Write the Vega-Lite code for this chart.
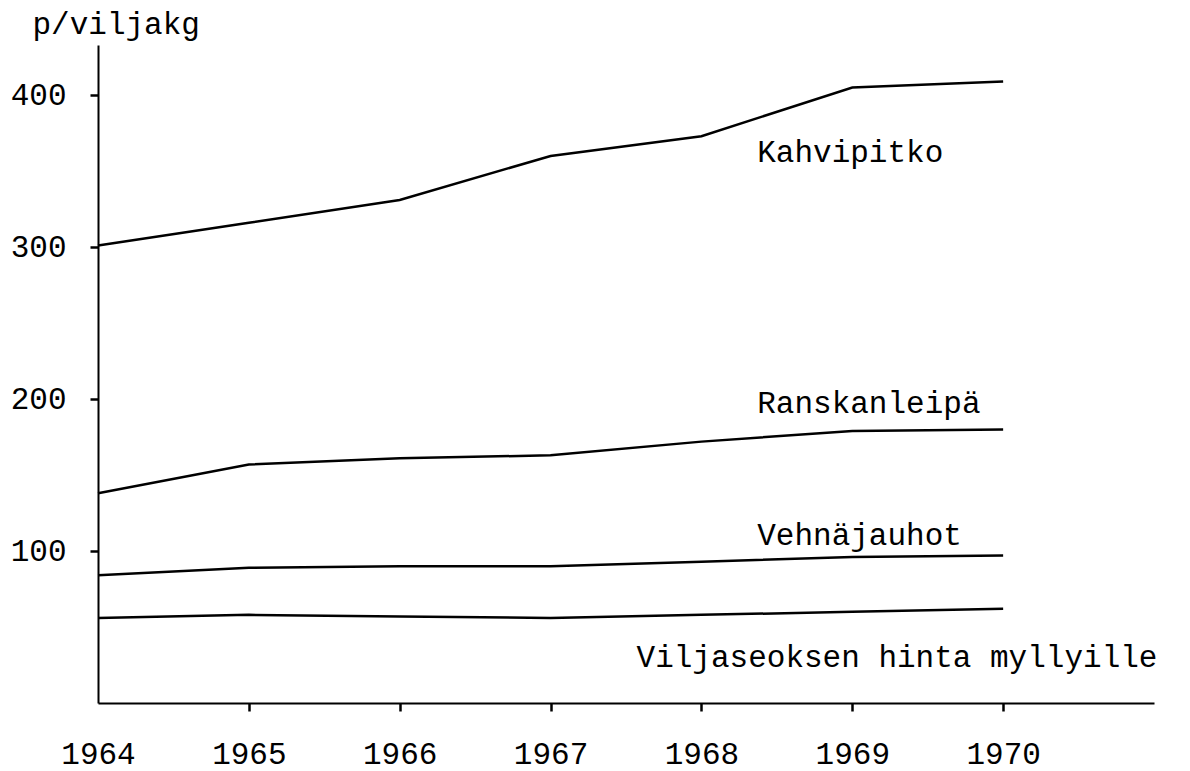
{
  "$schema": "https://vega.github.io/schema/vega-lite/v6.json",
  "autosize": "none",
  "width": 1056,
  "height": 658,
  "padding": {"left": 98, "top": 45, "right": 36, "bottom": 68},
  "background": "white",
  "config": {
    "view": {"stroke": null},
    "font": "Liberation Mono",
    "axis": {"grid": false, "domainColor": "black", "tickColor": "black", "labelColor": "black", "titleColor": "black", "domainWidth": 2, "tickWidth": 2.5, "labelFont": "Liberation Mono", "titleFont": "Liberation Mono", "labelFontSize": 31, "titleFontSize": 31, "labelFontWeight": "normal", "titleFontWeight": "normal"}
  },
  "datasets": {
    "series": [
      {"sarja": "Kahvipitko", "vuosi": 1964, "hinta": 301},
      {"sarja": "Kahvipitko", "vuosi": 1965, "hinta": 316},
      {"sarja": "Kahvipitko", "vuosi": 1966, "hinta": 331},
      {"sarja": "Kahvipitko", "vuosi": 1967, "hinta": 360},
      {"sarja": "Kahvipitko", "vuosi": 1968, "hinta": 373},
      {"sarja": "Kahvipitko", "vuosi": 1969, "hinta": 405},
      {"sarja": "Kahvipitko", "vuosi": 1970, "hinta": 409},
      {"sarja": "Ranskanleipä", "vuosi": 1964, "hinta": 138},
      {"sarja": "Ranskanleipä", "vuosi": 1965, "hinta": 157},
      {"sarja": "Ranskanleipä", "vuosi": 1966, "hinta": 161},
      {"sarja": "Ranskanleipä", "vuosi": 1967, "hinta": 163},
      {"sarja": "Ranskanleipä", "vuosi": 1968, "hinta": 172},
      {"sarja": "Ranskanleipä", "vuosi": 1969, "hinta": 179},
      {"sarja": "Ranskanleipä", "vuosi": 1970, "hinta": 180},
      {"sarja": "Vehnäjauhot", "vuosi": 1964, "hinta": 84},
      {"sarja": "Vehnäjauhot", "vuosi": 1965, "hinta": 89},
      {"sarja": "Vehnäjauhot", "vuosi": 1966, "hinta": 90},
      {"sarja": "Vehnäjauhot", "vuosi": 1967, "hinta": 90},
      {"sarja": "Vehnäjauhot", "vuosi": 1968, "hinta": 93},
      {"sarja": "Vehnäjauhot", "vuosi": 1969, "hinta": 96},
      {"sarja": "Vehnäjauhot", "vuosi": 1970, "hinta": 97},
      {"sarja": "Viljaseos", "vuosi": 1964, "hinta": 56},
      {"sarja": "Viljaseos", "vuosi": 1965, "hinta": 58},
      {"sarja": "Viljaseos", "vuosi": 1966, "hinta": 57},
      {"sarja": "Viljaseos", "vuosi": 1967, "hinta": 56},
      {"sarja": "Viljaseos", "vuosi": 1968, "hinta": 58},
      {"sarja": "Viljaseos", "vuosi": 1969, "hinta": 60},
      {"sarja": "Viljaseos", "vuosi": 1970, "hinta": 62}
    ],
    "labels": [
      {"teksti": "Kahvipitko", "vuosi": 1968.37, "hinta": 356},
      {"teksti": "Ranskanleipä", "vuosi": 1968.37, "hinta": 191},
      {"teksti": "Vehnäjauhot", "vuosi": 1968.37, "hinta": 104},
      {"teksti": "Viljaseoksen hinta myllyille", "vuosi": 1967.57, "hinta": 24}
    ]
  },
  "layer": [
    {
      "data": {"name": "series"},
      "mark": {"type": "line", "color": "black", "strokeWidth": 2.5},
      "encoding": {
        "x": {
          "field": "vuosi", "type": "quantitative",
          "scale": {"domain": [1964, 1971], "nice": false, "zero": false},
          "axis": {
            "title": null, "values": [1964, 1965, 1966, 1967, 1968, 1969, 1970], "format": "d",
            "tickSize": 8, "labelPadding": 28, "labelBaseline": "top", "labelFlush": false,
            "tickColor": {"condition": {"test": "datum.value == 1964", "value": "transparent"}, "value": "black"}
          }
        },
        "y": {
          "field": "hinta", "type": "quantitative",
          "scale": {"domain": [0, 433], "nice": false},
          "axis": {
            "title": "p/viljakg", "titleAngle": 0, "titleAlign": "left", "titleBaseline": "alphabetic",
            "titleX": -66, "titleY": -12,
            "values": [100, 200, 300, 400], "tickSize": 8, "labelPadding": 24, "labelBaseline": "middle"
          }
        },
        "detail": {"field": "sarja"}
      }
    },
    {
      "data": {"name": "labels"},
      "mark": {"type": "text", "align": "left", "baseline": "alphabetic", "font": "Liberation Mono", "fontSize": 31, "color": "black"},
      "encoding": {
        "x": {"field": "vuosi", "type": "quantitative"},
        "y": {"field": "hinta", "type": "quantitative"},
        "text": {"field": "teksti"}
      }
    }
  ]
}
